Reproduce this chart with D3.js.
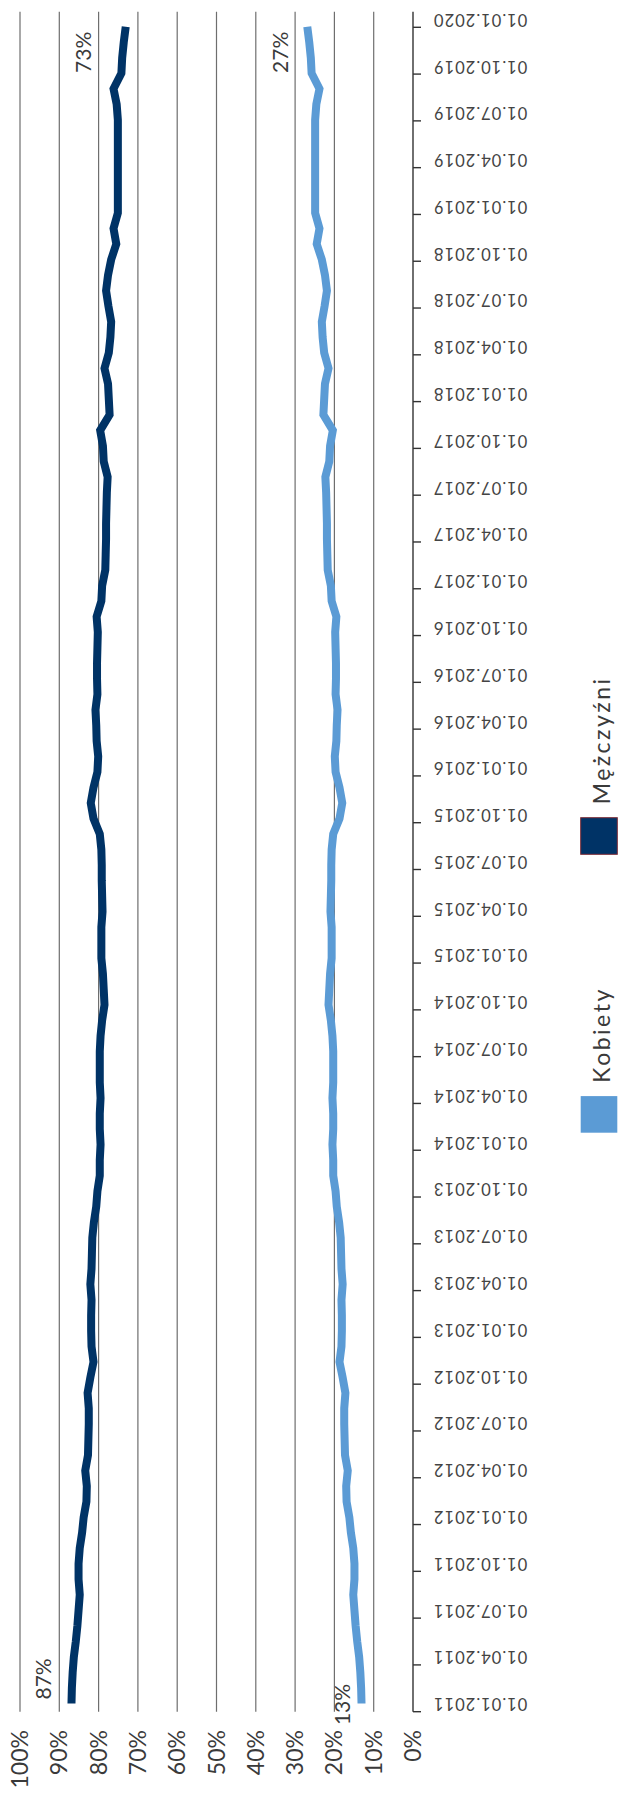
<!DOCTYPE html>
<html>
<head>
<meta charset="utf-8">
<script src="https://cdn.jsdelivr.net/npm/d3@7"></script>
<style>
  html, body { margin: 0; padding: 0; background: #ffffff; }
  svg { display: block; }
  text { font-family: Lato, "Open Sans", sans-serif; font-weight: 400; fill: #3a3a3a; }
</style>
</head>
<body>
<svg id="chart" width="619" height="1798"></svg>
<script>
// Quarterly axis labels, one per 3 monthly categories
const tickLabels = [
  "01.01.2011","01.04.2011","01.07.2011","01.10.2011",
  "01.01.2012","01.04.2012","01.07.2012","01.10.2012",
  "01.01.2013","01.04.2013","01.07.2013","01.10.2013",
  "01.01.2014","01.04.2014","01.07.2014","01.10.2014",
  "01.01.2015","01.04.2015","01.07.2015","01.10.2015",
  "01.01.2016","01.04.2016","01.07.2016","01.10.2016",
  "01.01.2017","01.04.2017","01.07.2017","01.10.2017",
  "01.01.2018","01.04.2018","01.07.2018","01.10.2018",
  "01.01.2019","01.04.2019","01.07.2019","01.10.2019",
  "01.01.2020"
];

// Monthly shares (%), January 2011 – January 2020
const kobiety = [
  13.1, 13.2, 13.4, 13.7, 14.2, 14.6, 14.9, 15.2, 14.9, 14.9, 15.2, 15.8,
  16.2, 16.9, 17.0, 16.6, 17.3, 17.4, 17.5, 17.5, 17.2, 17.9, 18.7, 18.2,
  18.1, 18.1, 18.2, 17.9, 18.2, 18.3, 18.4, 18.8, 19.4, 19.7, 20.3, 20.3,
  20.5, 20.3, 20.3, 20.5, 20.3, 20.3, 20.3, 20.5, 20.9, 21.5, 21.3, 21.1,
  20.7, 20.7, 20.7, 21.0, 20.9, 20.8, 20.8, 20.7, 20.3, 18.7, 18.0, 18.7,
  19.7, 19.9, 19.5, 19.4, 19.2, 19.7, 19.6, 19.6, 19.7, 19.8, 19.5, 20.7,
  20.9, 21.7, 21.8, 21.9, 21.9, 22.0, 22.1, 22.3, 21.3, 21.1, 20.4, 22.8,
  22.6, 22.4, 21.5, 22.6, 23.0, 23.2, 22.5, 21.9, 22.4, 23.2, 24.5, 23.8,
  24.9, 24.9, 24.9, 24.9, 24.9, 24.9, 24.9, 24.6, 23.8, 25.8, 26.0, 26.4,
  26.9
];
const mezczyzni = [
  86.9, 86.8, 86.6, 86.3, 85.8, 85.4, 85.1, 84.8, 85.1, 85.1, 84.8, 84.2,
  83.8, 83.1, 83.0, 83.4, 82.7, 82.6, 82.5, 82.5, 82.8, 82.1, 81.3, 81.8,
  81.9, 81.9, 81.8, 82.1, 81.8, 81.7, 81.6, 81.2, 80.6, 80.3, 79.7, 79.7,
  79.5, 79.7, 79.7, 79.5, 79.7, 79.7, 79.7, 79.5, 79.1, 78.5, 78.7, 78.9,
  79.3, 79.3, 79.3, 79.0, 79.1, 79.2, 79.2, 79.3, 79.7, 81.3, 82.0, 81.3,
  80.3, 80.1, 80.5, 80.6, 80.8, 80.3, 80.4, 80.4, 80.3, 80.2, 80.5, 79.3,
  79.1, 78.3, 78.2, 78.1, 78.1, 78.0, 77.9, 77.7, 78.7, 78.9, 79.6, 77.2,
  77.4, 77.6, 78.5, 77.4, 77.0, 76.8, 77.5, 78.1, 77.6, 76.8, 75.5, 76.2,
  75.1, 75.1, 75.1, 75.1, 75.1, 75.1, 75.1, 75.4, 76.2, 74.2, 74.0, 73.6,
  73.1
];
const seriesNames = ["Kobiety", "Mężczyźni"];
const seriesColors = ["#5b9bd5", "#003366"];
const valueTicks = [0, 10, 20, 30, 40, 50, 60, 70, 80, 90, 100];

// The chart is laid out as an ordinary horizontal line chart (u = time, v = value)
// and the whole group is turned a quarter turn counter-clockwise.
const PAGE_H = 1798;
const svg = d3.select("#chart");
const g = svg.append("g").attr("transform", `translate(0,${PAGE_H}) rotate(-90)`);

const plotStart = 86.3, plotEnd = 1786.3;
const months = d3.range(kobiety.length);

// Category slots (ticks on slot edges, labels in slot centres)
const slot = d3.scaleBand().domain(months).range([plotStart, plotEnd]).padding(0);
// Line positions along the time direction
const xIdx = d3.scaleLinear().domain([0, months.length - 1]).range([94.5, 1771.3]);
// Value direction
const y = d3.scaleLinear().domain([0, 100]).range([413, 20]);

// Gridlines
g.append("g").selectAll("line")
  .data(valueTicks.filter(v => v > 0))
  .join("line")
  .attr("x1", plotStart).attr("x2", plotEnd)
  .attr("y1", d => y(d)).attr("y2", d => y(d))
  .attr("stroke", "#6e6e6e").attr("stroke-width", 1.2);

// Category axis line + ticks
const axisG = g.append("g");
axisG.append("line")
  .attr("x1", plotStart).attr("x2", plotEnd)
  .attr("y1", y(0)).attr("y2", y(0))
  .attr("stroke", "#333333").attr("stroke-width", 1.4);
const tickIdx = months.filter(i => i % 3 === 0);
axisG.selectAll("line.tick")
  .data(tickIdx)
  .join("line")
  .attr("class", "tick")
  .attr("x1", d => slot(d)).attr("x2", d => slot(d))
  .attr("y1", y(0)).attr("y2", y(0) + 8)
  .attr("stroke", "#333333").attr("stroke-width", 1.4);
axisG.selectAll("text")
  .data(tickIdx)
  .join("text")
  .attr("transform", d => `translate(${slot(d) + slot.bandwidth() / 2},${y(0) + 20}) rotate(-90)`)
  .attr("text-anchor", "end")
  .attr("dy", "0.35em")
  .style("font-size", "16.5px")
  .style("letter-spacing", "1px")
  .style("fill", "#444444")
  .text((d, k) => tickLabels[k]);

// Value axis labels
g.append("g").selectAll("text")
  .data(valueTicks)
  .join("text")
  .attr("x", 68)
  .attr("y", d => y(d))
  .attr("dy", "0.35em")
  .attr("text-anchor", "end")
  .style("font-size", "23px")
  .text(d => d + "%");

// Lines
const line = d3.line().x((d, i) => xIdx(i)).y(d => y(d));
[kobiety, mezczyzni].forEach((vals, s) => {
  g.append("path")
    .datum(vals)
    .attr("d", line)
    .attr("fill", "none")
    .attr("stroke", seriesColors[s])
    .attr("stroke-width", 8)
    .attr("stroke-linejoin", "miter")
    .attr("stroke-linecap", "butt");
});

// End-point value labels
const last = months.length - 1;
const endLabels = [
  { idx: last, val: mezczyzni[last], du: -5, dv: -35, anchor: "end" },
  { idx: last, val: kobiety[last],   du: -5, dv: -19, anchor: "end" },
  { idx: 0,    val: mezczyzni[0],    du: 4,  dv: -20, anchor: "start" },
  { idx: 0,    val: kobiety[0],      du: -1, dv: -12, anchor: "middle" }
];
g.append("g").selectAll("text")
  .data(endLabels)
  .join("text")
  .attr("x", d => xIdx(d.idx) + d.du)
  .attr("y", d => y(d.val) + d.dv)
  .attr("text-anchor", d => d.anchor)
  .style("font-size", "21px")
  .text(d => Math.round(d.val) + "%");

// Legend
const legend = [
  { name: seriesNames[0], color: seriesColors[0], u: 665.3, border: "none" },
  { name: seriesNames[1], color: seriesColors[1], u: 943.7, border: "#7b2a35" }
];
const lg = g.append("g").selectAll("g").data(legend).join("g");
lg.append("rect")
  .attr("x", d => d.u).attr("y", 580.7)
  .attr("width", 36.6).attr("height", 36.6)
  .attr("fill", d => d.color)
  .attr("stroke", d => d.border).attr("stroke-width", 1);
lg.append("text")
  .attr("x", d => d.u + 50)
  .attr("y", 610)
  .style("font-size", "23px")
  .style("letter-spacing", "2.5px")
  .text(d => d.name);
</script>
</body>
</html>
